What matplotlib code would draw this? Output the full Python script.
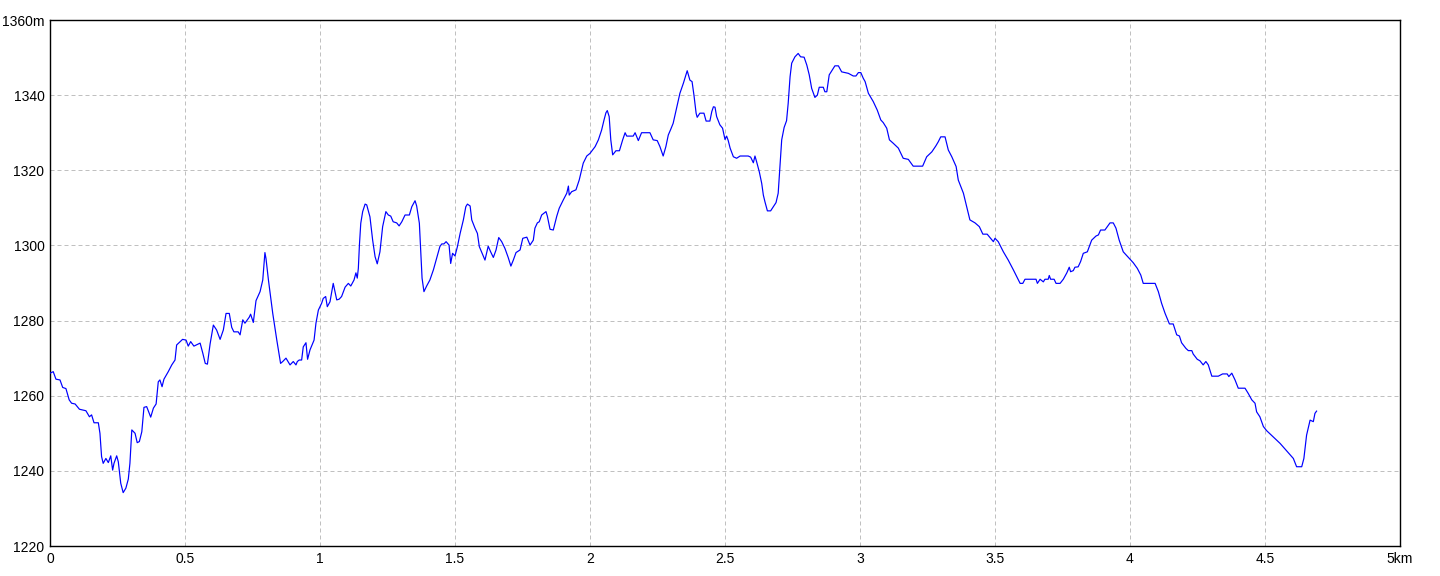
"""Elevation profile: altitude (m) against distance (km)."""

import matplotlib
matplotlib.use("Agg")
import matplotlib.pyplot as plt
from matplotlib.ticker import FixedLocator

# ── Data: distance along the track (km) and elevation (m) ─────────────
dist_km = [
    0.000, 0.012, 0.022, 0.037, 0.047, 0.059, 0.071, 0.080, 0.093, 0.109,
    0.133, 0.146, 0.154, 0.163, 0.179, 0.185, 0.191, 0.197, 0.207, 0.216,
    0.225, 0.232, 0.237, 0.247, 0.253, 0.262, 0.271, 0.281, 0.290, 0.296,
    0.303, 0.315, 0.323, 0.331, 0.340, 0.348, 0.358, 0.373, 0.383, 0.393,
    0.401, 0.407, 0.415, 0.422, 0.438, 0.451, 0.463, 0.469, 0.491, 0.504,
    0.512, 0.521, 0.533, 0.556, 0.566, 0.575, 0.583, 0.593, 0.605, 0.617,
    0.630, 0.642, 0.652, 0.664, 0.673, 0.681, 0.697, 0.704, 0.714, 0.722,
    0.738, 0.743, 0.753, 0.763, 0.778, 0.788, 0.796, 0.800, 0.809, 0.825,
    0.840, 0.854, 0.862, 0.874, 0.889, 0.901, 0.911, 0.916, 0.923, 0.932,
    0.938, 0.948, 0.954, 0.963, 0.978, 0.985, 0.994, 1.006, 1.012, 1.021,
    1.027, 1.037, 1.049, 1.062, 1.071, 1.080, 1.093, 1.105, 1.114, 1.126,
    1.133, 1.138, 1.142, 1.146, 1.151, 1.158, 1.167, 1.173, 1.185, 1.195,
    1.204, 1.212, 1.222, 1.232, 1.244, 1.253, 1.262, 1.271, 1.284, 1.293,
    1.303, 1.315, 1.331, 1.340, 1.352, 1.358, 1.368, 1.373, 1.378, 1.385,
    1.395, 1.407, 1.420, 1.432, 1.444, 1.451, 1.459, 1.467, 1.478, 1.484,
    1.491, 1.500, 1.509, 1.519, 1.531, 1.540, 1.546, 1.556, 1.562, 1.574,
    1.583, 1.590, 1.603, 1.611, 1.623, 1.632, 1.642, 1.652, 1.662, 1.673,
    1.685, 1.697, 1.707, 1.716, 1.726, 1.741, 1.751, 1.766, 1.778, 1.790,
    1.796, 1.805, 1.812, 1.821, 1.830, 1.837, 1.842, 1.852, 1.864, 1.877,
    1.886, 1.901, 1.914, 1.920, 1.923, 1.932, 1.948, 1.960, 1.975, 1.988,
    2.000, 2.019, 2.031, 2.043, 2.052, 2.059, 2.064, 2.071, 2.077, 2.084,
    2.096, 2.109, 2.121, 2.130, 2.136, 2.160, 2.167, 2.179, 2.191, 2.222,
    2.234, 2.249, 2.259, 2.271, 2.281, 2.290, 2.299, 2.308, 2.319, 2.333,
    2.346, 2.356, 2.360, 2.370, 2.378, 2.385, 2.393, 2.397, 2.407, 2.422,
    2.430, 2.444, 2.451, 2.457, 2.463, 2.469, 2.481, 2.491, 2.500, 2.506,
    2.512, 2.519, 2.531, 2.543, 2.556, 2.586, 2.595, 2.605, 2.611, 2.617,
    2.627, 2.636, 2.642, 2.648, 2.657, 2.669, 2.679, 2.689, 2.697, 2.704,
    2.710, 2.719, 2.728, 2.734, 2.741, 2.747, 2.759, 2.771, 2.780, 2.793,
    2.803, 2.812, 2.821, 2.833, 2.842, 2.849, 2.864, 2.870, 2.877, 2.886,
    2.899, 2.907, 2.920, 2.932, 2.957, 2.975, 2.985, 2.994, 3.003, 3.012,
    3.019, 3.031, 3.049, 3.064, 3.077, 3.086, 3.099, 3.109, 3.123, 3.142,
    3.160, 3.179, 3.197, 3.232, 3.247, 3.266, 3.281, 3.290, 3.299, 3.315,
    3.327, 3.340, 3.356, 3.364, 3.383, 3.395, 3.407, 3.426, 3.442, 3.455,
    3.471, 3.494, 3.500, 3.512, 3.531, 3.549, 3.568, 3.593, 3.603, 3.611,
    3.652, 3.657, 3.667, 3.679, 3.685, 3.697, 3.701, 3.706, 3.719, 3.726,
    3.741, 3.753, 3.766, 3.775, 3.780, 3.790, 3.796, 3.808, 3.817, 3.827,
    3.842, 3.858, 3.874, 3.883, 3.891, 3.907, 3.926, 3.938, 3.948, 3.960,
    3.975, 3.994, 4.012, 4.027, 4.040, 4.049, 4.093, 4.105, 4.117, 4.130,
    4.146, 4.160, 4.173, 4.183, 4.191, 4.207, 4.216, 4.229, 4.234, 4.249,
    4.259, 4.271, 4.281, 4.290, 4.303, 4.327, 4.343, 4.360, 4.366, 4.377,
    4.389, 4.401, 4.426, 4.438, 4.451, 4.463, 4.469, 4.481, 4.494, 4.506,
    4.556, 4.605, 4.617, 4.636, 4.644, 4.654, 4.667, 4.679, 4.685, 4.691,
]

elev_m = [
    1266.0, 1266.4, 1264.4, 1264.2, 1262.2, 1261.9, 1258.9, 1258.0, 1257.8, 1256.4,
    1256.0, 1254.4, 1254.9, 1252.8, 1252.8, 1250.0, 1243.8, 1242.0, 1243.3, 1242.2,
    1244.0, 1240.2, 1242.0, 1244.0, 1242.4, 1236.7, 1234.2, 1235.4, 1237.8, 1242.0,
    1250.9, 1250.0, 1247.5, 1247.8, 1250.4, 1256.9, 1257.1, 1254.3, 1256.7, 1257.8,
    1263.7, 1264.2, 1262.4, 1264.4, 1266.4, 1268.2, 1269.5, 1273.5, 1275.0, 1274.8,
    1273.2, 1274.4, 1273.2, 1274.0, 1271.3, 1268.6, 1268.4, 1273.8, 1278.8, 1277.5,
    1275.0, 1277.5, 1281.9, 1281.9, 1278.2, 1277.0, 1277.0, 1276.2, 1280.2, 1279.3,
    1280.9, 1281.7, 1279.5, 1285.3, 1287.7, 1290.8, 1298.1, 1296.5, 1290.8, 1281.9,
    1274.8, 1268.6, 1269.1, 1270.0, 1268.2, 1269.1, 1268.2, 1269.1, 1269.5, 1269.5,
    1273.0, 1274.1, 1269.7, 1272.2, 1274.8, 1279.3, 1282.8, 1284.6, 1285.9, 1286.4,
    1283.7, 1285.0, 1289.9, 1285.5, 1285.7, 1286.4, 1288.9, 1289.9, 1289.2, 1290.8,
    1292.7, 1291.3, 1293.9, 1300.1, 1305.9, 1309.0, 1311.0, 1310.8, 1307.6, 1301.4,
    1297.0, 1295.1, 1298.3, 1305.0, 1309.0, 1308.1, 1307.8, 1306.3, 1306.0, 1305.2,
    1306.3, 1308.1, 1308.1, 1310.3, 1311.9, 1310.5, 1305.9, 1298.8, 1291.3, 1287.7,
    1289.2, 1290.8, 1293.5, 1296.6, 1299.7, 1300.4, 1300.4, 1301.0, 1300.1, 1295.2,
    1297.9, 1297.2, 1299.7, 1303.2, 1306.8, 1310.3, 1311.0, 1310.5, 1306.8, 1304.6,
    1303.2, 1299.7, 1297.5, 1296.1, 1299.8, 1298.3, 1296.8, 1298.8, 1302.1, 1301.0,
    1299.2, 1296.8, 1294.5, 1296.1, 1298.1, 1298.8, 1301.9, 1302.2, 1300.1, 1301.4,
    1304.6, 1306.0, 1306.3, 1308.1, 1308.6, 1309.0, 1307.8, 1304.3, 1304.1, 1307.8,
    1309.9, 1312.1, 1313.9, 1315.8, 1313.4, 1314.3, 1314.8, 1317.4, 1321.9, 1323.8,
    1324.5, 1326.3, 1328.1, 1330.7, 1333.4, 1335.3, 1335.9, 1334.3, 1328.1, 1324.1,
    1325.2, 1325.2, 1328.1, 1330.0, 1329.1, 1329.1, 1330.0, 1327.9, 1330.0, 1330.0,
    1328.1, 1327.9, 1326.3, 1323.8, 1326.3, 1329.4, 1330.9, 1332.5, 1336.0, 1340.5,
    1343.2, 1345.6, 1346.5, 1344.0, 1343.6, 1340.0, 1335.2, 1334.1, 1335.2, 1335.2,
    1333.1, 1333.1, 1335.6, 1336.9, 1336.8, 1334.3, 1332.1, 1331.2, 1328.2, 1329.1,
    1327.9, 1325.9, 1323.6, 1323.2, 1323.8, 1323.8, 1323.5, 1322.0, 1323.8, 1322.3,
    1319.6, 1316.5, 1313.4, 1311.6, 1309.2, 1309.2, 1310.3, 1311.4, 1313.9, 1321.4,
    1328.1, 1331.4, 1333.2, 1337.8, 1344.9, 1348.5, 1350.2, 1351.1, 1350.2, 1350.1,
    1348.0, 1345.4, 1341.8, 1339.4, 1340.0, 1342.1, 1342.1, 1340.9, 1340.9, 1345.4,
    1346.9, 1347.8, 1347.8, 1346.2, 1345.8, 1345.1, 1345.1, 1346.0, 1346.0, 1344.5,
    1343.6, 1340.5, 1338.3, 1336.0, 1333.4, 1332.7, 1331.2, 1328.1, 1327.2, 1325.9,
    1323.2, 1322.9, 1321.1, 1321.1, 1323.6, 1324.9, 1326.5, 1327.6, 1328.9, 1328.9,
    1325.4, 1323.6, 1321.0, 1317.4, 1313.9, 1310.3, 1306.8, 1306.0, 1305.0, 1303.0,
    1303.0, 1301.0, 1301.9, 1301.0, 1298.3, 1296.1, 1293.5, 1289.9, 1289.9, 1291.0,
    1291.0, 1289.9, 1291.0, 1290.3, 1291.0, 1291.0, 1292.0, 1291.0, 1291.0, 1289.9,
    1289.9, 1291.0, 1292.7, 1294.2, 1293.0, 1293.3, 1294.2, 1294.3, 1295.7, 1297.9,
    1298.3, 1301.4, 1302.5, 1302.8, 1304.1, 1304.1, 1306.0, 1306.0, 1304.6, 1301.4,
    1298.3, 1296.8, 1295.4, 1293.9, 1292.1, 1289.9, 1289.9, 1287.7, 1284.6, 1281.9,
    1279.1, 1279.1, 1276.2, 1275.9, 1274.1, 1272.6, 1272.0, 1272.0, 1271.1, 1269.7,
    1269.3, 1268.2, 1269.1, 1268.2, 1265.2, 1265.2, 1265.8, 1265.8, 1265.1, 1266.0,
    1264.2, 1262.0, 1262.0, 1260.6, 1258.9, 1258.0, 1255.7, 1254.4, 1251.8, 1250.7,
    1247.3, 1243.3, 1241.1, 1241.1, 1243.3, 1249.5, 1253.5, 1253.1, 1255.3, 1255.9,
]

x_ticks = [0, 0.5, 1, 1.5, 2, 2.5, 3, 3.5, 4, 4.5, 5]
x_tick_labels = ["0", "0.5", "1", "1.5", "2", "2.5", "3", "3.5", "4", "4.5", "5km"]
y_ticks = [1220, 1240, 1260, 1280, 1300, 1320, 1340, 1360]
y_tick_labels = ["1220", "1240", "1260", "1280", "1300", "1320", "1340", "1360m"]

# ── Style ─────────────────────────────────────────────────────────────
plt.rcParams.update({
    "font.family": ["Liberation Sans", "DejaVu Sans"],
    "font.size": 10,
    "lines.scale_dashes": False,
})

PX = 72 / 100  # one pixel in points at dpi=100

fig = plt.figure(figsize=(14.4, 5.76), dpi=100)
ax = fig.add_axes([50 / 1440, 30 / 576, 1350 / 1440, 526 / 576])

ax.plot(dist_km, elev_m, color="#0000ff", linewidth=1.2 * PX, zorder=3)

ax.set_xlim(0, 5)
ax.set_ylim(1220, 1360)
ax.xaxis.set_major_locator(FixedLocator(x_ticks))
ax.yaxis.set_major_locator(FixedLocator(y_ticks))
ax.set_xticklabels(x_tick_labels)
ax.set_yticklabels(y_tick_labels)
ax.tick_params(axis="both", length=0, pad=4, colors="black")

ax.grid(True, color="#c0c0c0", linewidth=1 * PX,
        linestyle=(0, (4 * PX, 3 * PX)), zorder=1)
ax.set_axisbelow(True)

for side in ax.spines.values():
    side.set_linewidth(1.4 * PX)
    side.set_color("black")

fig.savefig("out.png", dpi=100, facecolor="white")
